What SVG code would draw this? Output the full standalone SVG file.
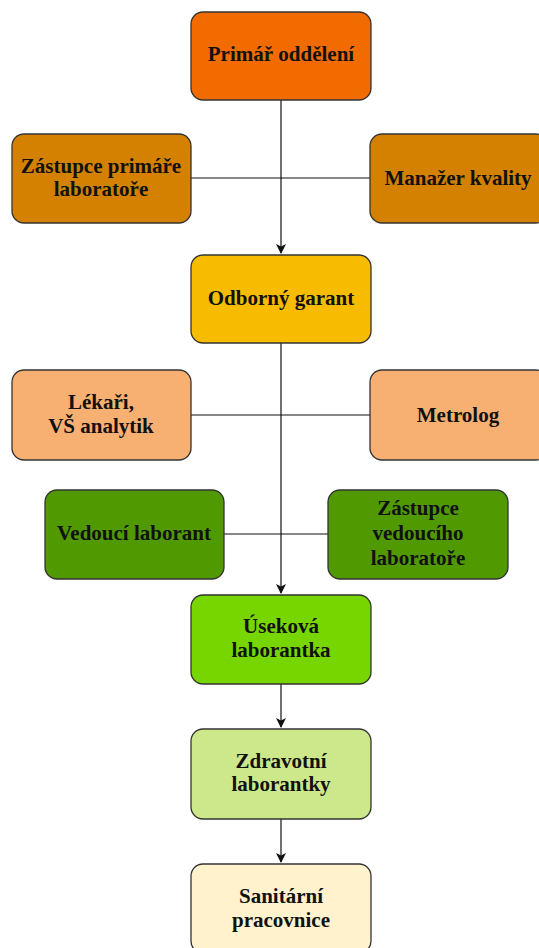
<svg xmlns="http://www.w3.org/2000/svg" width="539" height="948" viewBox="0 0 539 948">
<style>
.box{stroke:#333333;stroke-width:1.3}
.t{font-family:"Liberation Serif","Times New Roman",serif;font-weight:bold;font-size:21px;fill:#111111;text-anchor:middle}
.ln{stroke:#111111;stroke-width:1.2;fill:none}
</style>
<defs>
<marker id="ar" markerWidth="10" markerHeight="10" refX="9" refY="5" orient="auto" markerUnits="userSpaceOnUse">
<path d="M0,0 L10,5 L0,10 L2.5,5 Z" fill="#111111"/>
</marker>
</defs>
<rect width="539" height="948" fill="#ffffff"/>
<g id="connectors">
<line class="ln" x1="281" y1="100" x2="281" y2="253" marker-end="url(#ar)"/>
<line class="ln" x1="191" y1="178" x2="370" y2="178"/>
<line class="ln" x1="281" y1="343" x2="281" y2="593" marker-end="url(#ar)"/>
<line class="ln" x1="191" y1="415" x2="370" y2="415"/>
<line class="ln" x1="224" y1="534" x2="328" y2="534"/>
<line class="ln" x1="281" y1="684" x2="281" y2="727" marker-end="url(#ar)"/>
<line class="ln" x1="281" y1="819" x2="281" y2="862" marker-end="url(#ar)"/>
</g>
<g id="primar">
<rect class="box" x="191" y="12" width="180" height="88" rx="12" fill="#F26B00"/>
<text class="t" x="281" y="61">Primář oddělení</text>
</g>
<g id="zastupce-primare">
<rect class="box" x="12" y="134" width="179" height="89" rx="12" fill="#D48000"/>
<text class="t" x="101" y="173">Zástupce primáře</text>
<text class="t" x="101" y="196">laboratoře</text>
</g>
<g id="manazer">
<rect class="box" x="370" y="134" width="178" height="89" rx="12" fill="#D48000"/>
<text class="t" x="458" y="185">Manažer kvality</text>
</g>
<g id="garant">
<rect class="box" x="191" y="255" width="180" height="88" rx="12" fill="#F7BC00"/>
<text class="t" x="281" y="305">Odborný garant</text>
</g>
<g id="lekari">
<rect class="box" x="12" y="370" width="179" height="90" rx="12" fill="#F8AF72"/>
<text class="t" x="101" y="409">Lékaři,</text>
<text class="t" x="101" y="433">VŠ analytik</text>
</g>
<g id="metrolog">
<rect class="box" x="370" y="370" width="178" height="90" rx="12" fill="#F8AF72"/>
<text class="t" x="458" y="422">Metrolog</text>
</g>
<g id="vedouci">
<rect class="box" x="45" y="490" width="179" height="89" rx="12" fill="#509900"/>
<text class="t" x="134" y="540">Vedoucí laborant</text>
</g>
<g id="zastupce-vedouciho">
<rect class="box" x="328" y="490" width="180" height="89" rx="12" fill="#509900"/>
<text class="t" x="418" y="515">Zástupce</text>
<text class="t" x="418" y="540">vedoucího</text>
<text class="t" x="418" y="565">laboratoře</text>
</g>
<g id="usekova">
<rect class="box" x="191" y="595" width="180" height="89" rx="12" fill="#78D600"/>
<text class="t" x="281" y="633">Úseková</text>
<text class="t" x="281" y="657">laborantka</text>
</g>
<g id="zdravotni">
<rect class="box" x="191" y="729" width="180" height="90" rx="12" fill="#CDE88A"/>
<text class="t" x="281" y="768">Zdravotní</text>
<text class="t" x="281" y="791">laborantky</text>
</g>
<g id="sanitarni">
<rect class="box" x="191" y="864" width="180" height="89" rx="12" fill="#FFF2CC"/>
<text class="t" x="281" y="903">Sanitární</text>
<text class="t" x="281" y="927">pracovnice</text>
</g>
</svg>
